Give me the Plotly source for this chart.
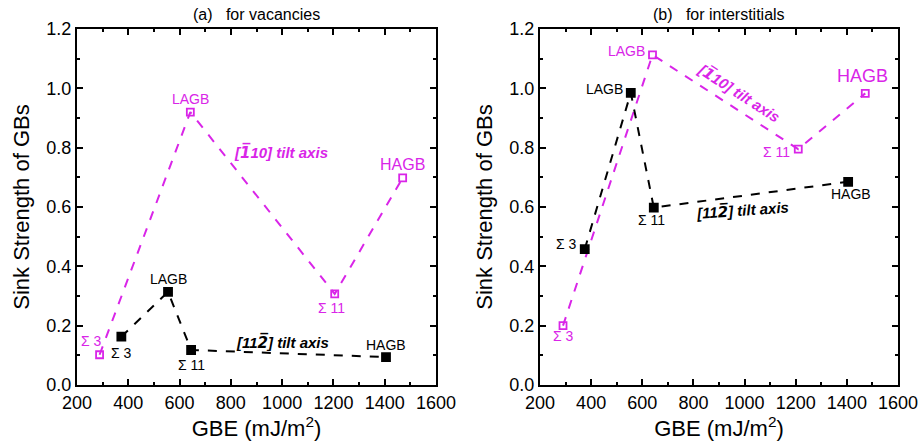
import plotly.graph_objects as go

# ---- data ----
labels = ["Σ 3", "LAGB", "Σ 11", "HAGB"]
# (a) vacancies
vac_110_x = [288, 642, 1205, 1470]
vac_110_y = [0.102, 0.92, 0.307, 0.698]
vac_112_x = [373, 555, 645, 1405]
vac_112_y = [0.163, 0.314, 0.118, 0.094]
# (b) interstitials
int_110_x = [290, 640, 1210, 1472]
int_110_y = [0.20, 1.113, 0.795, 0.983]
int_112_x = [375, 555, 645, 1405]
int_112_y = [0.458, 0.985, 0.598, 0.685]

MAG = "#D925E8"
FONT = "Arial, Liberation Sans, sans-serif"
OVS = '<span style="font-family:DejaVu Sans">'

fig = go.Figure()

def add_series(x, y, color, filled, xa, ya):
    fig.add_trace(go.Scatter(
        x=x, y=y, mode="lines+markers", xaxis=xa, yaxis=ya,
        line=dict(color=color, width=2, dash="dash"),
        marker=dict(symbol="square" if filled else "square-open", size=8 if filled else 7,
                    color=color, line=dict(color=color, width=1.8)),
        showlegend=False, cliponaxis=False))

add_series(vac_110_x, vac_110_y, MAG, False, "x", "y")
add_series(vac_112_x, vac_112_y, "black", True, "x", "y")
add_series(int_110_x, int_110_y, MAG, False, "x2", "y2")
add_series(int_112_x, int_112_y, "black", True, "x2", "y2")

def ann(xref, yref, x, y, text, color, size=14, xs=0, ys=0, ang=0, bold_it=False, xanchor="center"):
    t = "<b><i>" + text + "</i></b>" if bold_it else text
    fig.add_annotation(x=x, y=y, xref=xref, yref=yref, text=t, showarrow=False,
                       xshift=xs, yshift=ys, textangle=ang, xanchor=xanchor,
                       font=dict(family=FONT, size=size, color=color))

tilt110 = "[" + OVS + "1\u0305</span>10] tilt axis"
tilt112 = "[11" + OVS + "2\u0305</span>] tilt axis"

# panel (a)
ann("x", "y", vac_110_x[0], vac_110_y[0], labels[0], MAG, xs=-8, ys=14)
ann("x", "y", vac_110_x[1], vac_110_y[1], labels[1], MAG, ys=13)
ann("x", "y", vac_110_x[2], vac_110_y[2], labels[2], MAG, xs=-3, ys=-14)
ann("x", "y", vac_110_x[3], vac_110_y[3], labels[3], MAG, ys=13, size=16)
ann("x", "y", 995, 0.785, tilt110, MAG, size=15, bold_it=True)
ann("x", "y", vac_112_x[0], vac_112_y[0], labels[0], "black", xs=0, ys=-16)
ann("x", "y", vac_112_x[1], vac_112_y[1], labels[1], "black", ys=13)
ann("x", "y", vac_112_x[2], vac_112_y[2], labels[2], "black", xs=0, ys=-15)
ann("x", "y", vac_112_x[3], vac_112_y[3], labels[3], "black", ys=12)
ann("x", "y", 1000, 0.145, tilt112, "black", size=15, bold_it=True)

# panel (b)
ann("x2", "y2", int_110_x[0], int_110_y[0], labels[0], MAG, xs=0, ys=-10)
ann("x2", "y2", int_110_x[1], int_110_y[1], labels[1], MAG, xs=-6, ys=4, xanchor="right")
ann("x2", "y2", int_110_x[2], int_110_y[2], labels[2], MAG, xs=-6, ys=-3, xanchor="right")
ann("x2", "y2", int_110_x[3], int_110_y[3], labels[3], MAG, xs=-3, ys=17, size=18)
ann("x2", "y2", 980, 0.984, tilt110, MAG, size=15, ang=33, bold_it=True)
ann("x2", "y2", int_112_x[0], int_112_y[0], labels[0], "black", xs=-6, ys=5, xanchor="right")
ann("x2", "y2", int_112_x[1], int_112_y[1], labels[1], "black", xs=-6, ys=4, xanchor="right")
ann("x2", "y2", int_112_x[2], int_112_y[2], labels[2], "black", xs=-2, ys=-12)
ann("x2", "y2", int_112_x[3], int_112_y[3], labels[3], "black", xs=3, ys=-12)
ann("x2", "y2", 990, 0.59, tilt112, "black", size=15, ang=-4, bold_it=True)

# panel titles
fig.add_annotation(x=0.5, y=1.0, xref="x domain", yref="y domain", yshift=4, yanchor="bottom",
                   text="(a)   for vacancies", showarrow=False, font=dict(family=FONT, size=16, color="black"))
fig.add_annotation(x=0.5, y=1.0, xref="x2 domain", yref="y2 domain", yshift=4, yanchor="bottom",
                   text="(b)   for interstitials", showarrow=False, font=dict(family=FONT, size=16, color="black"))

xcommon = dict(range=[200, 1600], dtick=200, tick0=200, showline=True, linewidth=2, linecolor="black",
               mirror="allticks", ticks="inside", ticklen=6, tickwidth=1.5, tickcolor="black",
               showgrid=False, zeroline=False, automargin=False,
               minor=dict(dtick=100, ticks="inside", ticklen=3, tickwidth=1.5, tickcolor="black"),
               tickfont=dict(family=FONT, size=18, color="black"),
               title=dict(text="GBE (mJ/m<sup>2</sup>)", font=dict(family=FONT, size=22, color="black"), standoff=0))
ycommon = dict(range=[0, 1.2], dtick=0.2, tick0=0, tickformat=".1f", showline=True, linewidth=2, linecolor="black",
               mirror="allticks", ticks="inside", ticklen=6, tickwidth=1.5, tickcolor="black",
               showgrid=False, zeroline=False, automargin=False,
               minor=dict(dtick=0.1, ticks="inside", ticklen=3, tickwidth=1.5, tickcolor="black"),
               tickfont=dict(family=FONT, size=18, color="black"),
               title=dict(text="Sink Strength of GBs", font=dict(family=FONT, size=22, color="black"), standoff=11))

fig.update_layout(
    width=922, height=443, paper_bgcolor="white", plot_bgcolor="white",
    margin=dict(l=0, r=0, t=29, b=58),
    xaxis=dict(domain=[77/922, 436/922], anchor="y", **xcommon),
    yaxis=dict(domain=[0, 1], anchor="x", **ycommon),
    xaxis2=dict(domain=[540/922, 898/922], anchor="y2", **xcommon),
    yaxis2=dict(domain=[0, 1], anchor="x2", **ycommon),
)

fig.write_html("out.html")
